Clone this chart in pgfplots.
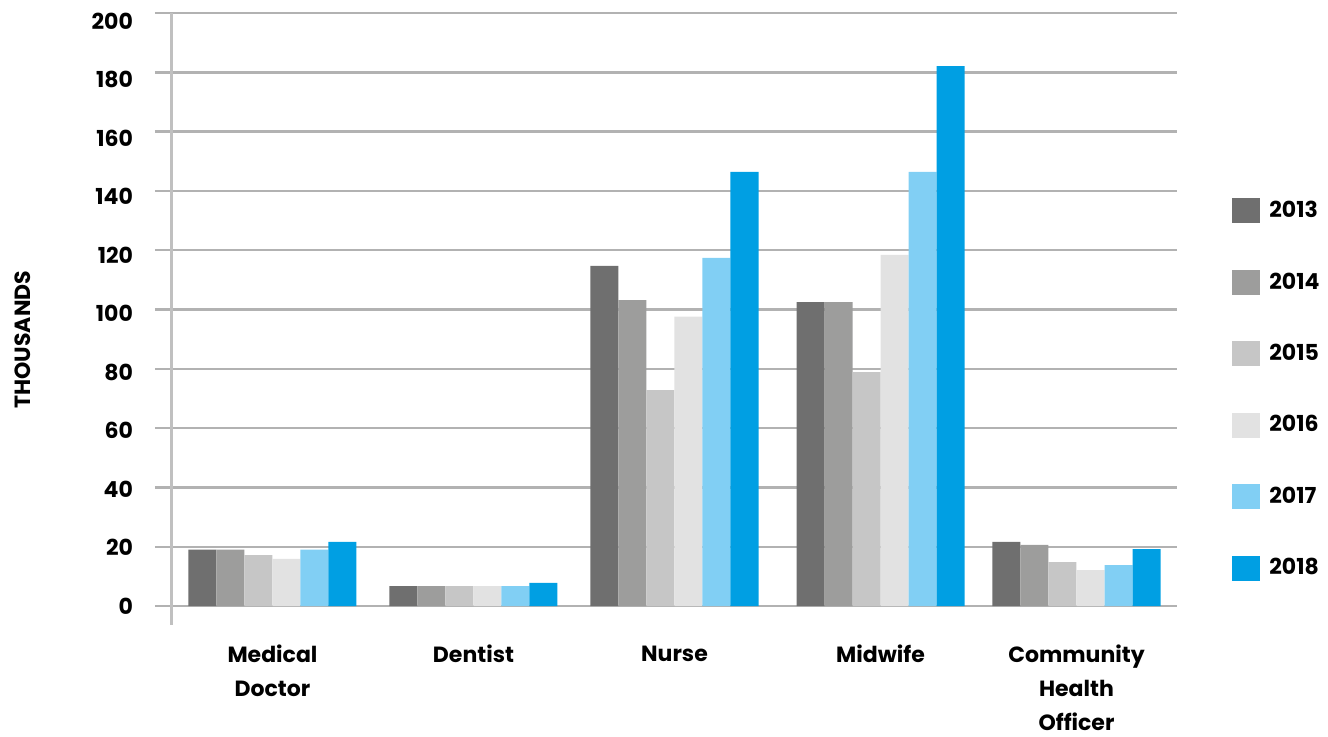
\documentclass[border=0pt]{standalone}
\usepackage{fontspec}
\setmainfont{Poppins}
\usepackage{pgfplots}
\pgfplotsset{compat=1.18}

\definecolor{c2013}{HTML}{6F6F6F}
\definecolor{c2014}{HTML}{9D9D9C}
\definecolor{c2015}{HTML}{C6C6C6}
\definecolor{c2016}{HTML}{E2E2E2}
\definecolor{c2017}{HTML}{81CFF4}
\definecolor{c2018}{HTML}{009FE3}
\definecolor{gridgray}{HTML}{B2B2B2}
\definecolor{axisgray}{HTML}{C0C0C0}

\begin{document}
\begin{tikzpicture}
\begin{axis}[
  name=ax,
  scale only axis,
  width=502.5pt, height=296.5pt,
  xmin=-0.5, xmax=4.5, ymin=0, ymax=200,
  clip=false,
  ybar=0pt, bar width=14pt,
  axis line style={draw=none},
  xtick={0,1,2,3.025,4},
  xticklabels={Medical\\Doctor, Dentist, \vphantom{d}Nurse, Midwife, Community\\Health\\Officer},
  x tick label style={align=center, font=\bfseries\fontsize{11}{17}\selectfont, anchor=north, yshift=-7.5pt},
  major x tick style={draw=none},
  ytick={0,20,...,200},
  ytick pos=left,
  tick align=outside,
  major tick length=8.5pt,
  major y tick style={draw=gridgray, line width=1.2pt},
  ymajorgrids,
  major grid style={draw=gridgray, line width=1.2pt},
  y tick label style={font=\bfseries\fontsize{11}{13}\selectfont, xshift=-7.5pt, yshift={-0.4pt*\ticknum}},
  /pgf/number format/assume math mode=true,
  ylabel={THOUSANDS},
  ylabel style={font=\bfseries\fontsize{11}{13}\selectfont, at={(axis description cs:-0.149,0.449)}, anchor=center},
  legend image code/.code={\fill[#1] (0pt,-6.25pt) rectangle (14pt,6.25pt);},
  legend style={at={(axis description cs:1.0547,0.690)}, anchor=north west, draw=none, fill=none,
    font=\bfseries\fontsize{11}{13}\selectfont, row sep=22pt, inner sep=0pt},
  legend cell align=left,
]
\addplot[fill=c2013, draw=none] coordinates {(0,19) (1,6.7) (2,114.7) (3.025,102.5) (4,21.6)};
\addplot[fill=c2014, draw=none] coordinates {(0,19) (1,6.7) (2,103.2) (3.025,102.5) (4,20.6)};
\addplot[fill=c2015, draw=none] coordinates {(0,17.2) (1,6.7) (2,72.8) (3.025,78.9) (4,14.8)};
\addplot[fill=c2016, draw=none] coordinates {(0,15.9) (1,6.7) (2,97.6) (3.025,118.4) (4,12.1)};
\addplot[fill=c2017, draw=none] coordinates {(0,19) (1,6.7) (2,117.4) (3.025,146.4) (4,13.8)};
\addplot[fill=c2018, draw=none] coordinates {(0,21.6) (1,7.8) (2,146.4) (3.025,182.1) (4,19.2)};
\legend{\hspace{2.5pt}2013,\hspace{2.5pt}2014,\hspace{2.5pt}2015,\hspace{2.5pt}2016,\hspace{2.5pt}2017,\hspace{2.5pt}2018}
\draw[axisgray, line width=1.5pt] (axis cs:-0.5,200) -- ([yshift=-9.5pt]axis cs:-0.5,0);
\end{axis}
\pgfresetboundingbox
\path[use as bounding box] ([xshift=-86pt,yshift=-65pt]ax.south west) rectangle ([xshift=578pt,yshift=303pt]ax.south west);
\end{tikzpicture}
\end{document}
